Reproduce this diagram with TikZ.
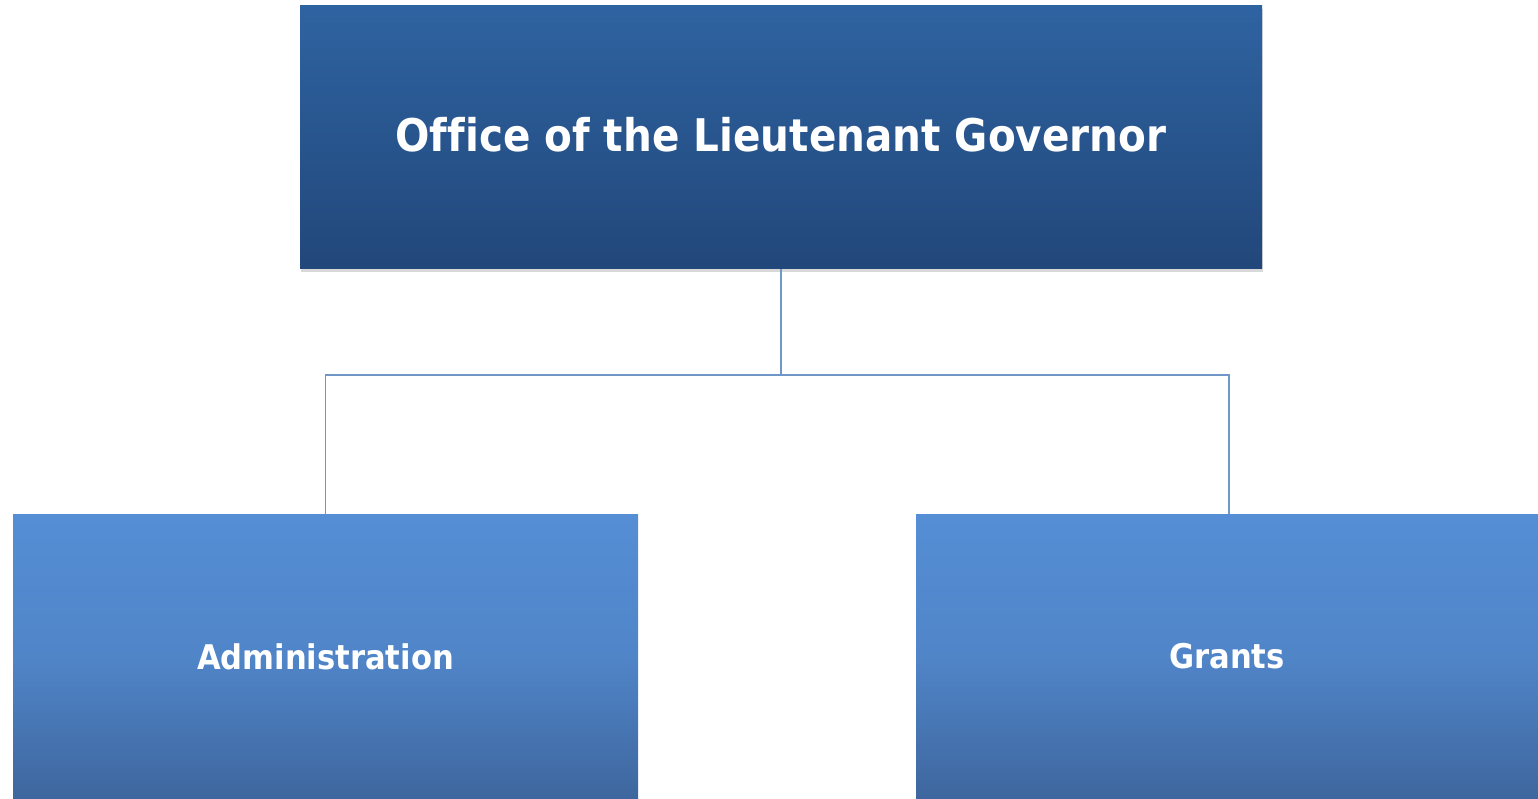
\documentclass[tikz,border=0pt]{standalone}
\usepackage{fontspec}
\setmainfont{DejaVu Sans Condensed}[BoldFont={DejaVu Sans Condensed Bold},Ligatures=NoCommon]
\usetikzlibrary{shadows}
\definecolor{topA}{RGB}{46,99,161}
\definecolor{topB}{RGB}{34,71,122}
\definecolor{botA}{RGB}{85,142,213}
\definecolor{botM}{RGB}{80,133,200}
\definecolor{botB}{RGB}{62,102,158}
\definecolor{linkc}{RGB}{112,150,200}
\tikzset{
  topbox/.style={rectangle, inner sep=0pt, top color=topA, bottom color=topB,
    drop shadow={shadow xshift=1pt, shadow yshift=-3pt, opacity=0.25, fill=black!60},
    text=white},
  toplabel/.style={text=white, font=\bfseries\fontsize{45}{54}\selectfont},
  subbox/.style={rectangle, inner sep=0pt, top color=botA, bottom color=botB, middle color=botM,
    text=white, font=\bfseries\fontsize{34}{40}\selectfont},
  link/.style={draw=linkc, line width=1.5pt}
}
\begin{document}
\begin{tikzpicture}[x=1pt,y=-1pt]
\useasboundingbox (0,0) rectangle (1538,799);
\node[topbox, minimum width=962pt, minimum height=263pt] (top) at (781,137.5) {};
\node[toplabel] (toptext) at (781,135) {Office of the Lieutenant Governor};
\node[subbox, minimum width=625pt, minimum height=285pt] (admin) at (325.5,656.5) {Administration};
\node[subbox, minimum width=622pt, minimum height=285pt] (grants) at (1227,656.5) {Grants};
\coordinate (j) at (781,375);
\coordinate (gtop) at ([xshift=2pt]grants.north);
\draw[link] (top.south) -- (j);
\draw[link] (admin.north) |- (j) -| (gtop);
\end{tikzpicture}
\end{document}
